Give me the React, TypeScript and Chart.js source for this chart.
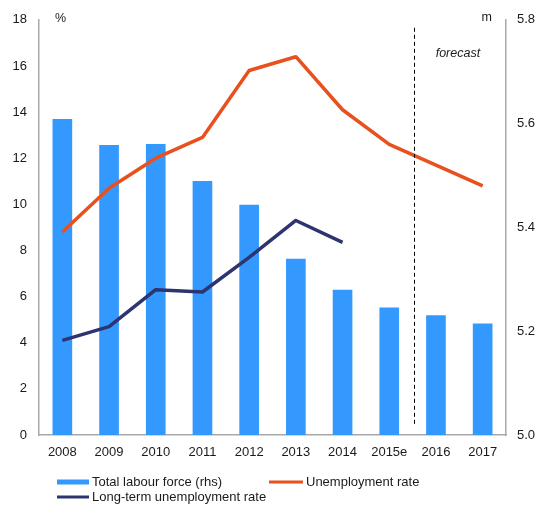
import React, { useEffect, useRef } from "react";
import { Chart, registerables } from "chart.js";

Chart.register(...registerables);

const years = ["2008", "2009", "2010", "2011", "2012", "2013", "2014", "2015e", "2016", "2017"];
const labourForce = [5.608, 5.558, 5.56, 5.489, 5.443, 5.339, 5.279, 5.245, 5.23, 5.214];
const unemploymentRate = [8.8, 10.7, 12.0, 12.9, 15.8, 16.4, 14.1, 12.6, 11.7, 10.8];
const longTermRate = [4.1, 4.7, 6.3, 6.2, 7.7, 9.3, 8.35, null, null, null];
const leftTicks = [0, 18, 2];
const rightTicks = [5.0, 5.8, 0.2];
const forecastSplit = 7.53;
const forecastLabelAt = 8.47;

const FONT = "'Liberation Sans', Arial, sans-serif";
const TEXT = "#1a1a1a";
const BLUE = "#3399ff";
const ORANGE = "#e8501e";
const NAVY = "#2e3470";
const AXIS = "#a8a8a8";

const overlay = {
  id: "overlay",
  afterDatasetsDraw(chart: any) {
    const { ctx, chartArea, scales } = chart;
    const x = scales.x;
    ctx.save();
    // forecast divider
    const xs = Math.round(x.getPixelForValue(forecastSplit)) + 0.5;
    ctx.strokeStyle = "#000";
    ctx.lineWidth = 1;
    ctx.setLineDash([4, 3]);
    ctx.beginPath();
    ctx.moveTo(xs, chartArea.top + 8);
    ctx.lineTo(xs, chartArea.bottom - 11);
    ctx.stroke();
    ctx.setLineDash([]);

    ctx.fillStyle = TEXT;
    ctx.textBaseline = "middle";
    ctx.font = `italic 12.5px ${FONT}`;
    ctx.textAlign = "center";
    ctx.fillText("forecast", x.getPixelForValue(forecastLabelAt), chartArea.top + 34);

    ctx.font = `12.5px ${FONT}`;
    ctx.textAlign = "left";
    ctx.fillText("%", chartArea.left + 16, chartArea.top - 1);
    ctx.textAlign = "right";
    ctx.fillText("m", chartArea.right - 14, chartArea.top - 2);

    // legend
    const ds = chart.data.datasets;
    const items = [
      { x: 57, y: 482, w: 32, h: 5, color: ds[2].backgroundColor, label: ds[2].label },
      { x: 269, y: 482, w: 34, h: 3, color: ds[0].borderColor, label: ds[0].label },
      { x: 57, y: 497, w: 32, h: 3, color: ds[1].borderColor, label: ds[1].label },
    ];
    ctx.font = `13px ${FONT}`;
    ctx.textAlign = "left";
    for (const it of items) {
      ctx.fillStyle = it.color;
      ctx.fillRect(it.x, it.y - it.h / 2, it.w, it.h);
      ctx.fillStyle = TEXT;
      ctx.fillText(it.label, it.x + it.w + 3, it.y);
    }
    ctx.restore();
  },
};

export default function App() {
  const ref = useRef<HTMLCanvasElement | null>(null);
  useEffect(() => {
    if (!ref.current) return;
    const chart = new Chart(ref.current, {
      type: "bar",
      data: {
        labels: years,
        datasets: [
          {
            type: "line",
            label: "Unemployment rate",
            data: unemploymentRate,
            borderColor: ORANGE,
            backgroundColor: ORANGE,
            borderWidth: 3.5,
            pointRadius: 0,
            tension: 0,
            yAxisID: "yL",
            order: 1,
            borderJoinStyle: "round",
          } as any,
          {
            type: "line",
            label: "Long-term unemployment rate",
            data: longTermRate,
            borderColor: NAVY,
            backgroundColor: NAVY,
            borderWidth: 3.5,
            pointRadius: 0,
            tension: 0,
            yAxisID: "yL",
            order: 1,
            borderJoinStyle: "round",
          } as any,
          {
            type: "bar",
            label: "Total labour force (rhs)",
            data: labourForce,
            backgroundColor: BLUE,
            barThickness: 19,
            yAxisID: "yR",
            order: 2,
          } as any,
        ],
      },
      options: {
        responsive: false,
        animation: false,
        devicePixelRatio: 1,
        layout: { padding: { top: 18, bottom: 50, left: 0, right: 0 } },
        plugins: { legend: { display: false }, tooltip: { enabled: false } },
        scales: {
          x: {
            grid: { display: false, drawTicks: false },
            border: { display: true, color: AXIS, width: 1.5 },
            ticks: { color: TEXT, font: { family: FONT, size: 13 }, padding: 10, maxRotation: 0, autoSkip: false },
            afterFit: (s: any) => { s.height = 30; },
          },
          yL: {
            position: "left",
            min: leftTicks[0],
            max: leftTicks[1],
            grid: { display: false, drawTicks: false },
            border: { display: true, color: AXIS, width: 1.5 },
            ticks: { stepSize: leftTicks[2], color: TEXT, font: { family: FONT, size: 13 }, padding: 12 },
            afterFit: (s: any) => { s.width = 39; },
          },
          yR: {
            position: "right",
            min: rightTicks[0],
            max: rightTicks[1],
            grid: { display: false, drawTicks: false },
            border: { display: true, color: AXIS, width: 1.5 },
            ticks: {
              stepSize: rightTicks[2],
              color: TEXT,
              font: { family: FONT, size: 13 },
              padding: 11,
              callback: (v: any) => Number(v).toFixed(1),
            },
            afterFit: (s: any) => { s.width = 33; },
          },
        },
      },
      plugins: [overlay],
    });
    return () => chart.destroy();
  }, []);
  return (
    <div style={{ position: "fixed", left: 0, top: 0, width: 539, height: 515, background: "#fff" }}>
      <canvas ref={ref} width={539} height={515} />
    </div>
  );
}
